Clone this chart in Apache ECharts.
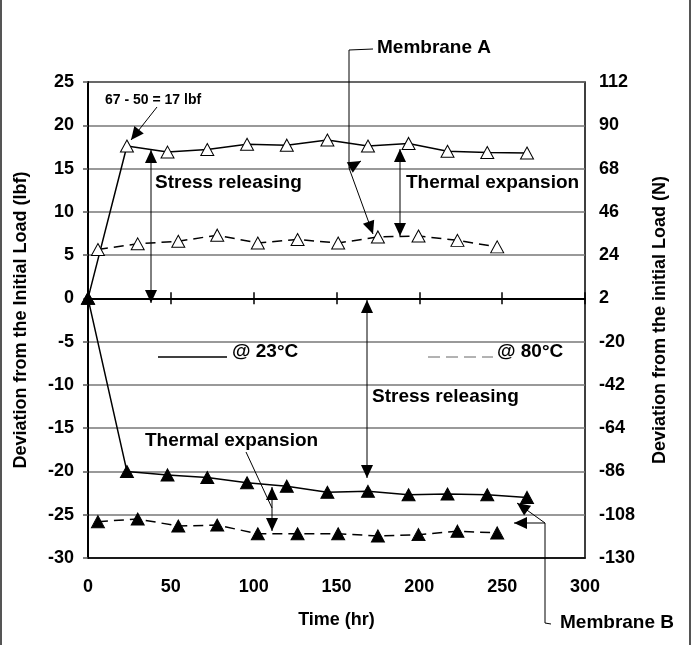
<!DOCTYPE html>
<html>
<head>
<meta charset="utf-8">
<script src="https://cdn.jsdelivr.net/npm/echarts@6/dist/echarts.min.js"></script>
<style>
html, body { margin: 0; padding: 0; background: #fff; }
#chart { width: 695px; height: 645px; }
</style>
</head>
<body>
<div id="chart"></div>
<script>
// time axis (hr)
var time23 = [0, 23.5, 48, 72, 96, 120, 144.5, 169, 193.5, 217, 241, 265];
var time80 = [6, 30, 54.5, 78, 102.5, 126.5, 151, 175, 199.5, 223, 247];

// deviation from the initial load (lbf)
var memA23 = [0, 17.6, 16.9, 17.2, 17.8, 17.7, 18.3, 17.6, 17.9, 17.0, 16.85, 16.8];
var memA80 = [5.65, 6.3, 6.6, 7.3, 6.4, 6.8, 6.4, 7.1, 7.2, 6.7, 5.95];
var memB23 = [0, -20.0, -20.4, -20.7, -21.3, -21.7, -22.4, -22.3, -22.7, -22.6, -22.7, -23.0];
var memB80 = [-25.8, -25.5, -26.3, -26.2, -27.2, -27.2, -27.2, -27.45, -27.3, -26.9, -27.1];

// right axis labels (N), bottom to top
var newtonLabels = ['-130', '-108', '-86', '-64', '-42', '-20', '2', '24', '46', '68', '90', '112'];

var FONT = "'Liberation Sans', Arial, sans-serif";

function pairs(t, v) {
    return t.map(function (x, i) { return [x, v[i]]; });
}

function makeSeries(name, t, v, filled, dashed) {
    return {
        name: name,
        type: 'line',
        data: pairs(t, v),
        xAxisIndex: 0,
        yAxisIndex: 0,
        symbol: 'triangle',
        symbolSize: [13, 12],
        itemStyle: {color: filled ? '#000' : '#fff', borderColor: '#000', borderWidth: 1},
        lineStyle: {color: '#000', width: 1.5, type: dashed ? [10, 6] : 'solid'},
        silent: true,
        z: 3
    };
}

// arrow head, tip at (x,y), pointing along angle a
function head(x, y, a) {
    var L = 13, w = 6;
    var bx = x - L * Math.cos(a), by = y - L * Math.sin(a);
    var px = -Math.sin(a) * w, py = Math.cos(a) * w;
    return {
        type: 'polygon', z: 10, silent: true,
        shape: {points: [[x, y], [bx + px, by + py], [bx - px, by - py]]},
        style: {fill: '#000'}
    };
}

function arrow(pts, startHead, endHead) {
    var out = [{
        type: 'polyline', z: 10, silent: true,
        shape: {points: pts},
        style: {stroke: '#000', lineWidth: 1, fill: null}
    }];
    var n = pts.length;
    if (endHead) {
        out.push(head(pts[n - 1][0], pts[n - 1][1],
            Math.atan2(pts[n - 1][1] - pts[n - 2][1], pts[n - 1][0] - pts[n - 2][0])));
    }
    if (startHead) {
        out.push(head(pts[0][0], pts[0][1],
            Math.atan2(pts[0][1] - pts[1][1], pts[0][0] - pts[1][0])));
    }
    return out;
}

function label(text, x, y, size) {
    return {
        type: 'text', z: 10, silent: true, x: x, y: y,
        style: {text: text, fill: '#000', font: 'bold ' + (size || 19) + 'px ' + FONT, align: 'left', verticalAlign: 'middle'}
    };
}

var graphics = [].concat(
    // outer frame sides
    [{type: 'line', silent: true, shape: {x1: 1, y1: 0, x2: 1, y2: 645}, style: {stroke: '#555', lineWidth: 2}},
     {type: 'line', silent: true, shape: {x1: 690, y1: 0, x2: 690, y2: 645}, style: {stroke: '#555', lineWidth: 2}}],
    [label('67 - 50 = 17 lbf', 105, 100, 14)],
    arrow([[157, 107], [131, 140]], false, true),
    [label('Stress releasing', 155, 183)],
    arrow([[151, 150], [151, 303]], true, true),
    [label('Thermal expansion', 406, 183)],
    arrow([[400, 149], [400, 236]], true, true),
    [label('Membrane A', 377, 48)],
    arrow([[373, 49], [349, 50], [349, 168], [373, 234]], false, true),
    arrow([[349, 168], [361, 161]], false, true),
    // legend
    [{type: 'line', silent: true, shape: {x1: 158, y1: 357, x2: 227, y2: 357}, style: {stroke: '#000', lineWidth: 1.5}},
     label('@ 23°C', 232, 352),
     {type: 'line', silent: true, shape: {x1: 428, y1: 357, x2: 493, y2: 357}, style: {stroke: '#666', lineWidth: 1, lineDash: [12, 6]}},
     label('@ 80°C', 497, 352)],
    [label('Stress releasing', 372, 397)],
    arrow([[367, 300], [367, 478]], true, true),
    [label('Thermal expansion', 145, 441)],
    arrow([[246, 452], [272, 508]], false, false),
    arrow([[272, 487], [272, 531]], true, true),
    [label('Membrane B', 560, 623)],
    arrow([[551, 624], [545, 623], [545, 523], [514, 523]], false, true),
    arrow([[545, 523], [517, 503]], false, true)
);

var chart = echarts.init(document.getElementById('chart'), null, {renderer: 'canvas'});

var option = {
    animation: false,
    backgroundColor: '#fff',
    textStyle: {fontFamily: FONT},
    grid: {left: 88, right: 110, top: 82, bottom: 87, show: true, borderColor: '#000', borderWidth: 1.5, backgroundColor: 'transparent'},
    xAxis: [{
        type: 'value', min: 0, max: 300, interval: 50, position: 'bottom',
        axisLine: {show: true, onZero: false, lineStyle: {color: '#000', width: 1.5}},
        axisTick: {show: false},
        splitLine: {show: false},
        axisLabel: {color: '#000', fontSize: 18, fontWeight: 'bold', fontFamily: FONT, margin: 20},
        name: 'Time (hr)', nameLocation: 'middle', nameGap: 53,
        nameTextStyle: {color: '#000', fontSize: 18, fontWeight: 'bold', fontFamily: FONT}
    }, {
        type: 'value', min: 0, max: 300, interval: 50, position: 'bottom',
        axisLine: {show: true, onZero: true, onZeroAxisIndex: 0, lineStyle: {color: '#000', width: 2}},
        axisTick: {show: true, inside: true, length: 6, lineStyle: {color: '#000', width: 1.5}},
        axisLabel: {show: false}, splitLine: {show: false}
    }, {
        type: 'value', min: 0, max: 300, interval: 50, position: 'bottom',
        axisLine: {show: false, onZero: true, onZeroAxisIndex: 0},
        axisTick: {show: true, inside: false, length: 6, lineStyle: {color: '#000', width: 1.5}},
        axisLabel: {show: false}, splitLine: {show: false}
    }],
    yAxis: [{
        type: 'value', min: -30, max: 25, interval: 5, position: 'left',
        axisLine: {show: true, onZero: false, lineStyle: {color: '#000', width: 2}},
        axisTick: {show: true, length: 5, lineStyle: {color: '#555', width: 1.5}},
        splitLine: {show: true, lineStyle: {color: '#777', width: 1.5}},
        axisLabel: {color: '#000', fontSize: 18, fontWeight: 'bold', fontFamily: FONT, margin: 14},
        name: 'Deviation from the Initial Load (lbf)', nameLocation: 'middle', nameRotate: 90, nameGap: 58,
        nameTextStyle: {color: '#000', fontSize: 18, fontWeight: 'bold', fontFamily: FONT}
    }, {
        type: 'value', min: -30, max: 25, interval: 5, position: 'right',
        axisLine: {show: false, onZero: false},
        axisTick: {show: false},
        splitLine: {show: false},
        axisLabel: {
            color: '#000', fontSize: 18, fontWeight: 'bold', fontFamily: FONT, margin: 14,
            formatter: function (v) { return newtonLabels[Math.round((v + 30) / 5)]; }
        },
        name: 'Deviation from the initial Load (N)', nameLocation: 'middle', nameRotate: 90, nameGap: 66,
        nameTextStyle: {color: '#000', fontSize: 18, fontWeight: 'bold', fontFamily: FONT}
    }],
    series: [
        makeSeries('Membrane A @ 23°C', time23, memA23, false, false),
        makeSeries('Membrane A @ 80°C', time80, memA80, false, true),
        makeSeries('Membrane B @ 23°C', time23, memB23, true, false),
        makeSeries('Membrane B @ 80°C', time80, memB80, true, true)
    ],
    graphic: graphics
};

chart.setOption(option);
</script>
</body>
</html>
